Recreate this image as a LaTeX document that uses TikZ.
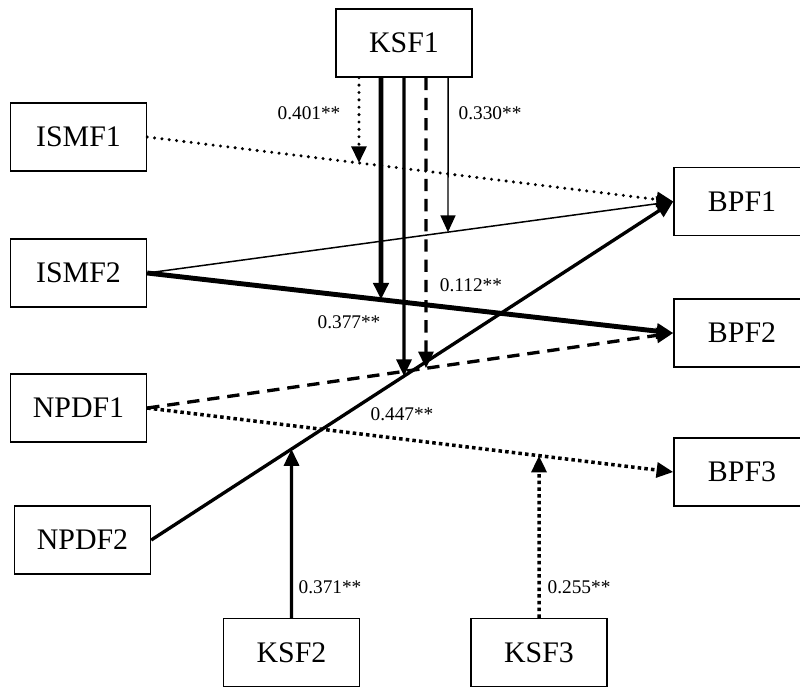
\documentclass[tikz,border=0pt]{standalone}
\usepackage{fontspec}
\setmainfont{Liberation Serif}
\usetikzlibrary{arrows.meta,calc}

\tikzset{
  box/.style={draw,line width=0.85pt,minimum width=2.72cm,minimum height=1.36cm,
    inner sep=0pt,font=\fontsize{17}{20}\selectfont},
  lbl/.style={inner sep=0pt,font=\fontsize{11}{13}\selectfont},
  tip/.style={-{Triangle[length=9.5pt,width=8.5pt]}},
  thinline/.style={tip,line width=0.85pt},
  medline/.style={tip,line width=1.9pt},
  heavyline/.style={tip,line width=2.8pt},
  dashline/.style={tip,line width=1.9pt,dash pattern=on 7pt off 4.5pt},
  dotline/.style={tip,line width=1.9pt,line cap=round,dash pattern=on 0pt off 4.2pt},
  sqdotline/.style={tip,line width=2pt,dash pattern=on 2pt off 1.8pt}
}

\begin{document}
\begin{tikzpicture}[x=0.02cm,y=-0.02cm]
  \useasboundingbox (0,0) rectangle (800,687);

  % boxes
  \node[box] (ksf1) at (404,43) {KSF1};
  \node[box] (ismf1) at (78.5,137) {ISMF1};
  \node[box] (ismf2) at (78.5,273) {ISMF2};
  \node[box] (npdf1) at (78.5,408) {NPDF1};
  \node[box] (npdf2) at (82.5,540) {NPDF2};
  \node[box] (bpf1) at (742,201.5) {BPF1};
  \node[box] (bpf2) at (742,333) {BPF2};
  \node[box] (bpf3) at (742,472) {BPF3};
  \node[box] (ksf2) at (291.5,652.5) {KSF2};
  \node[box] (ksf3) at (539,652.5) {KSF3};

  % feet of the moderating arrows
  \coordinate (ka) at ($(ksf1.south)+(-45,0)$);
  \coordinate (kb) at ($(ksf1.south)+(-23,0)$);
  \coordinate (kc) at (ksf1.south);
  \coordinate (kd) at ($(ksf1.south)+(22,0)$);
  \coordinate (ke) at ($(ksf1.south)+(44,0)$);
  \coordinate (ka2) at ($(ka)+(0,100)$);
  \coordinate (kb2) at ($(kb)+(0,100)$);
  \coordinate (kc2) at ($(kc)+(0,100)$);
  \coordinate (kd2) at ($(kd)+(0,100)$);
  \coordinate (ke2) at ($(ke)+(0,100)$);
  \coordinate (kf2) at ($(ksf2.north)+(0,-100)$);
  \coordinate (kg2) at ($(ksf3.north)+(0,-100)$);

  \coordinate (ta) at (intersection of ismf1.east--bpf1.west and ka--ka2);
  \coordinate (tb) at (intersection of ismf2.east--bpf2.west and kb--kb2);
  \coordinate (tc) at (intersection of npdf2.east--bpf1.west and kc--kc2);
  \coordinate (td) at (intersection of npdf1.east--bpf2.west and kd--kd2);
  \coordinate (te) at (intersection of ismf2.east--bpf1.west and ke--ke2);
  \coordinate (tf) at (intersection of npdf2.east--bpf1.west and ksf2.north--kf2);
  \coordinate (tg) at (intersection of npdf1.east--bpf3.west and ksf3.north--kg2);

  % direct paths
  \draw[dotline] (ismf1.east) -- (bpf1.west);
  \draw[thinline] (ismf2.east) -- (bpf1.west);
  \draw[heavyline] (ismf2.east) -- (bpf2.west);
  \draw[dashline] (npdf1.east) -- (bpf2.west);
  \draw[sqdotline] (npdf1.east) -- (bpf3.west);
  \draw[medline] (npdf2.east) -- (bpf1.west);

  % moderators
  \draw[dotline] (ka) -- (ta);
  \draw[heavyline] (kb) -- (tb);
  \draw[medline] (kc) -- (tc);
  \draw[dashline] (kd) -- (td);
  \draw[thinline] (ke) -- (te);
  \draw[medline] (ksf2.north) -- (tf);
  \draw[sqdotline] (ksf3.north) -- (tg);

  % coefficients
  \node[lbl] (c401) at (309,113) {0.401**};
  \node[lbl] (c330) at (490,113) {0.330**};
  \node[lbl] (c112) at (471,285) {0.112**};
  \node[lbl] (c377) at (349,322) {0.377**};
  \node[lbl] (c447) at (402,414) {0.447**};
  \node[lbl] (c371) at (330,587) {0.371**};
  \node[lbl] (c255) at (579,587) {0.255**};
\end{tikzpicture}
\end{document}
